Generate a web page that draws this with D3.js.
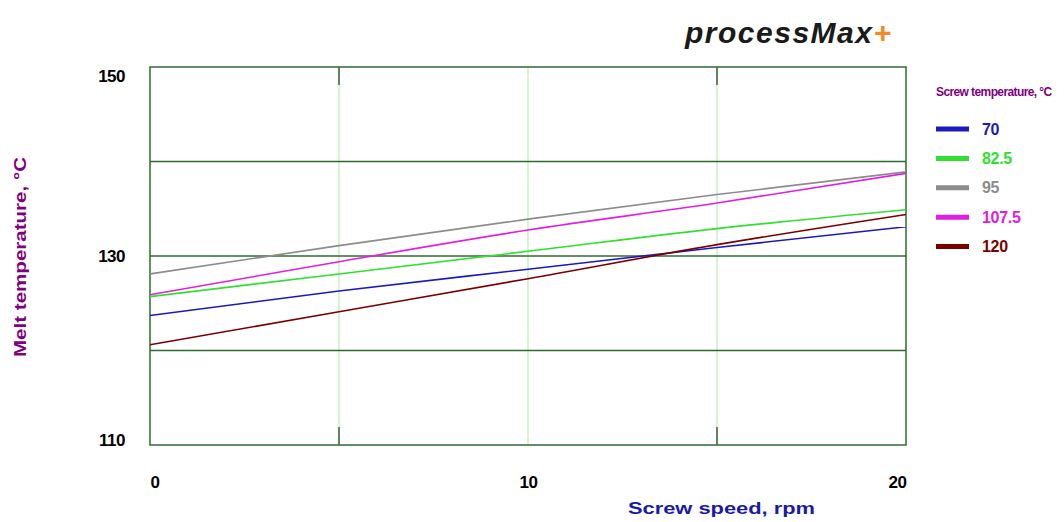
<!DOCTYPE html>
<html>
<head>
<meta charset="utf-8">
<script src="https://cdn.jsdelivr.net/npm/d3@7"></script>
<style>
  body { margin: 0; background: #fff; overflow: hidden; }
  svg text { font-family: "Liberation Sans", Arial, sans-serif; }
</style>
</head>
<body>
<div id="vis"></div>
<script>
// screw speed, rpm
var speeds = [0, 5, 10, 15, 20];

// melt temperature per screw temperature setting
var screwTemps = ["70", "82.5", "95", "107.5", "120"];
var t70 = [123.7, 126.3, 128.6, 130.9, 133.1];
var t825 = [125.7, 128.1, 130.5, 132.9, 134.9];
var t95 = [128.1, 131.1, 133.9, 136.5, 138.9];
var t1075 = [125.9, 129.4, 132.75, 135.6, 138.75];
var t120 = [120.6, 124.1, 127.6, 131.2, 134.4];
var seriesValues = [t70, t825, t95, t1075, t120];
var colours = ["#1a1ac0", "#30e030", "#8c8c8c", "#e020e0", "#7a0000"];

var yTicks = [110, 130, 150];
var yGrid = [120, 130, 140];
var xTicks = [0, 10, 20];
var xGrid = [5, 10, 15];

var width = 1064;
var height = 522;

var margin = {
    top: 67,
    bottom: 77,
    left: 150,
    right: 158
};

var svg = d3.select('#vis')
    .append('svg')
    .attr('width', width)
    .attr('height', height);

var w = width - margin.left - margin.right;
var h = height - margin.top - margin.bottom;

var g = svg.append('g')
    .attr('transform', 'translate(' + margin.left + ',' + margin.top + ')');

var x_scale = d3.scaleLinear().domain([0, 20]).range([0, w]);
var y_scale = d3.scaleLinear().domain([110, 150]).range([h, 0]);

// light vertical grid
g.selectAll('.vgrid')
    .data(xGrid)
    .enter()
    .append('line')
    .attr('x1', function(d) { return x_scale(d); })
    .attr('x2', function(d) { return x_scale(d); })
    .attr('y1', 0)
    .attr('y2', h)
    .attr('stroke', '#c6f0c6')
    .attr('stroke-width', 1.5);

// short dark ticks at 5 and 15
[5, 15].forEach(function(d) {
    g.append('line')
        .attr('x1', x_scale(d)).attr('x2', x_scale(d))
        .attr('y1', 0).attr('y2', 18)
        .attr('stroke', '#2f6b2f').attr('stroke-width', 1.5);
    g.append('line')
        .attr('x1', x_scale(d)).attr('x2', x_scale(d))
        .attr('y1', h - 18).attr('y2', h)
        .attr('stroke', '#2f6b2f').attr('stroke-width', 1.5);
});

// dark horizontal grid
g.selectAll('.hgrid')
    .data(yGrid)
    .enter()
    .append('line')
    .attr('x1', 0)
    .attr('x2', w)
    .attr('y1', function(d) { return y_scale(d); })
    .attr('y2', function(d) { return y_scale(d); })
    .attr('stroke', '#2f6b2f')
    .attr('stroke-width', 1.5);

g.append('rect')
    .attr('width', w)
    .attr('height', h)
    .attr('fill', 'none')
    .attr('stroke', '#2f6b2f')
    .attr('stroke-width', 1.5);

var line = d3.line()
    .x(function(d, i) { return x_scale(speeds[i]); })
    .y(function(d) { return y_scale(d); })
    .curve(d3.curveMonotoneX);

g.selectAll('.series')
    .data(seriesValues)
    .enter()
    .append('path')
    .attr('d', line)
    .attr('fill', 'none')
    .attr('stroke', function(d, i) { return colours[i]; })
    .attr('stroke-width', 1.6);

// y axis labels
var y_axis = d3.axisLeft(y_scale).tickValues(yTicks).tickSize(0).tickPadding(25);
var ya = g.append('g').call(y_axis);
ya.select('.domain').remove();
ya.selectAll('text')
    .attr('font-size', 17)
    .attr('font-weight', 'bold')
    .attr('letter-spacing', '-0.5px')
    .attr('fill', '#000')
    .attr('dy', function(d) { return d == 150 ? '0.85em' : (d == 110 ? '0.05em' : '0.32em'); });

// x axis labels
var x_axis = d3.axisBottom(x_scale).tickValues(xTicks).tickSize(0).tickPadding(31);
var xa = g.append('g').attr('transform', 'translate(0,' + h + ')').call(x_axis);
xa.select('.domain').remove();
xa.selectAll('text')
    .attr('font-size', 17)
    .attr('font-weight', 'bold')
    .attr('letter-spacing', '-0.5px')
    .attr('fill', '#000')
    .attr('text-anchor', function(d) { return d == 0 ? 'start' : (d == 20 ? 'end' : 'middle'); });

// axis titles
svg.append('text')
    .attr('x', 628)
    .attr('y', 514)
    .attr('font-size', 16)
    .attr('font-weight', 'bold')
    .attr('textLength', 187)
    .attr('lengthAdjust', 'spacingAndGlyphs')
    .attr('fill', '#1a1aa8')
    .text('Screw speed, rpm');

svg.append('text')
    .attr('transform', 'translate(26,357) rotate(-90)')
    .attr('font-size', 16)
    .attr('font-weight', 'bold')
    .attr('textLength', 200)
    .attr('lengthAdjust', 'spacingAndGlyphs')
    .attr('fill', '#800080')
    .text('Melt temperature, °C');

// title
var title = svg.append('text')
    .attr('x', 685)
    .attr('y', 43)
    .attr('font-family', '"Open Sans", sans-serif')
    .attr('font-size', 30)
    .attr('font-style', 'italic')
    .attr('font-weight', 'bold')
    .attr('letter-spacing', '1.5px')
    .attr('fill', '#1a1a1a');
title.append('tspan').text('processMax');
title.append('tspan').attr('fill', '#f08a24').text('+');

// legend
svg.append('text')
    .attr('x', 936)
    .attr('y', 96)
    .attr('font-size', 12)
    .attr('font-weight', 'bold')
    .attr('letter-spacing', '-0.6px')
    .attr('fill', '#800080')
    .text('Screw temperature, °C');

var legend = svg.selectAll('.legend')
    .data(screwTemps)
    .enter()
    .append('g')
    .attr('transform', function(d, i) { return 'translate(936,' + (129 + i * 29.4) + ')'; });

legend.append('line')
    .attr('x1', 0).attr('x2', 33)
    .attr('stroke', function(d, i) { return colours[i]; })
    .attr('stroke-width', 5);

legend.append('text')
    .attr('x', 46)
    .attr('dy', '0.35em')
    .attr('font-size', 16)
    .attr('font-weight', 'bold')
    .attr('letter-spacing', '-0.3px')
    .attr('fill', function(d, i) { return colours[i]; })
    .text(function(d) { return d; });
</script>
</body>
</html>
